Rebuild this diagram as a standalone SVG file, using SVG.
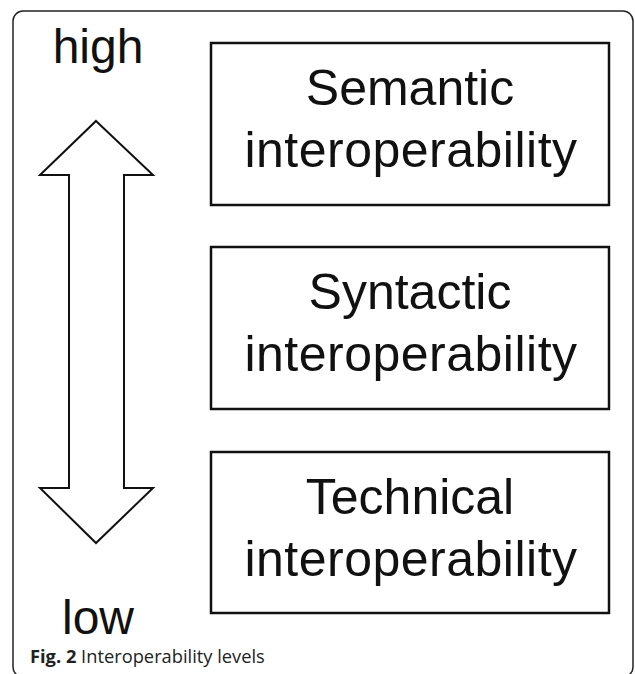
<svg xmlns="http://www.w3.org/2000/svg" width="635" height="674" viewBox="0 0 635 674">
<style>
.frame{fill:none;stroke:#222;stroke-width:1.5}
.box{fill:#fff;stroke:#111;stroke-width:2.5}
.lbl{font-family:"Liberation Sans",Arial,sans-serif;font-size:50px;fill:#111;text-anchor:middle}
.wide{letter-spacing:0.5px}
.side{font-family:"Liberation Sans",Arial,sans-serif;font-size:48px;fill:#111;text-anchor:middle}
.cap{font-family:"Open Sans","Noto Sans",sans-serif;font-size:18.3px;fill:#222}
</style>
<rect class="frame" x="13" y="11" width="620" height="666" rx="10"/>
<g id="high"><text class="side" x="98" y="63">high</text></g>
<g id="low"><text class="side" x="98" y="634">low</text></g>
<g id="connectors">
<polygon points="96,121 153,175 124,175 124,488 153,488 96,543 40,488 69,488 69,175 40,175" fill="#fff" stroke="#111" stroke-width="2"/>
</g>
<g id="semantic">
<rect class="box" x="211" y="43" width="398" height="162"/>
<text class="lbl" x="410" y="105">Semantic</text>
<text class="lbl wide" x="411" y="167">interoperability</text>
</g>
<g id="syntactic">
<rect class="box" x="211" y="247" width="398" height="162"/>
<text class="lbl" x="410" y="309">Syntactic</text>
<text class="lbl wide" x="411" y="371">interoperability</text>
</g>
<g id="technical">
<rect class="box" x="211" y="452" width="398" height="161"/>
<text class="lbl" x="410" y="514">Technical</text>
<text class="lbl wide" x="411" y="576">interoperability</text>
</g>
<text class="cap" x="30" y="663"><tspan font-weight="bold">Fig. 2</tspan> Interoperability levels</text>
</svg>
